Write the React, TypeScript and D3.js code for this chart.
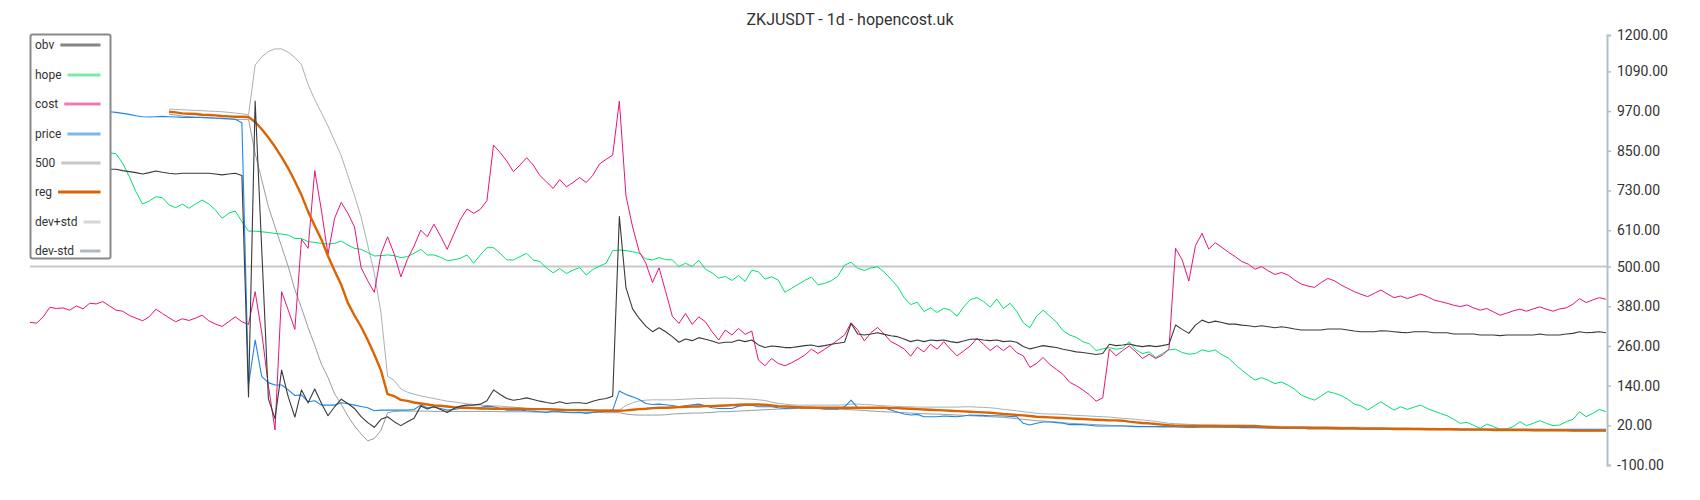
import React, { useEffect, useRef } from "react";
import * as d3 from "d3";

const TITLE = "ZKJUSDT - 1d - hopencost.uk";
const N = 239;
const BAND_START = 21;
const LEVEL = 500;
const yTicks = [-100, 20, 140, 260, 380, 500, 610, 730, 850, 970, 1090, 1200];

const obv = [
  800, 800, 798, 798, 797, 797, 796, 796, 795, 795, 794, 794,
  794, 794, 790, 787, 784, 780, 784, 789, 785, 782, 780, 782, 782, 782, 782, 782, 780, 777, 780, 782, 775,
  106, 1000, 550, 100, 40, 187, 106, 45, 127, 88, 130, 87, 49, 76, 99,
  86, 71, 46, 28, 14, 38, 46, 31, 19, 31, 41, 78, 69, 76, 68, 59, 71, 78, 81, 81, 84, 94, 127, 113, 101, 96, 99, 103, 98, 93, 89, 86, 91, 86, 88, 88, 86, 93, 98, 101, 108, 651, 436, 372, 343, 320, 303, 315,
  303, 288, 271, 281, 276, 285, 280, 275, 268, 271, 271, 278, 273, 278, 263, 255, 260, 258, 255, 255, 258, 261, 263, 258, 261, 265, 268, 271, 328, 296, 293, 296, 300, 295, 291, 288, 281, 273, 278, 273, 278, 276, 278, 273, 270, 275, 280,
  281, 278, 276, 278, 273, 275, 271, 258, 251, 256, 261, 258, 255, 250, 246, 242, 240, 237, 234, 237, 265, 261, 263, 266, 261, 258, 261, 258, 261, 265, 323, 310, 298, 323, 338, 330, 335, 331, 326, 326, 323, 321, 318, 321, 318, 315, 318, 315,
  311, 308, 308, 308, 308, 311, 311, 311, 308, 305, 303, 303, 303, 306, 305, 303, 301, 300, 303, 303, 303, 300, 300, 300, 296, 296, 296, 296, 293, 293, 293, 291, 293, 293, 293, 293, 293, 296, 293, 293, 293, 296, 298, 303, 300, 301, 303, 300,
];

const hope = [
  880, 878, 876, 874, 872, 870, 866, 862, 858, 854, 850, 847,
  844, 841, 812, 772, 726, 689, 698, 711, 708, 686, 678, 689, 676, 689, 701, 689, 671, 646, 661, 668, 636,
  607, 607, 605, 603, 600, 598, 595, 585, 585, 575, 573, 570, 568, 570, 577,
  565, 555, 552, 542, 532, 533, 535, 533, 527, 530, 540, 552, 535, 535, 528, 518, 520, 525, 535, 510, 535, 557, 557, 540, 520, 520, 530, 540, 520, 515, 496, 481, 494, 479, 489, 497, 474, 491, 501, 510, 548, 550, 548, 545, 540, 523, 520, 527,
  521, 520, 500, 510, 500, 519, 492, 481, 465, 470, 458, 473, 455, 489, 484, 462, 469, 459, 422, 434, 446, 458, 468, 445, 449, 457, 471, 504, 513, 495, 488, 496, 499, 483, 462, 440, 406, 385, 392, 364, 375, 361, 374, 368, 350, 378, 400,
  406, 394, 377, 402, 373, 389, 365, 330, 315, 350, 368, 350, 332, 306, 293, 286, 273, 266, 246, 251, 255, 250, 253, 273, 248, 237, 242, 225, 237, 248, 250, 240, 235, 237, 248, 243, 248, 233, 223, 204, 187, 171, 157, 164, 156, 146, 151, 141,
  129, 111, 103, 96, 109, 122, 117, 110, 99, 84, 79, 66, 79, 91, 78, 66, 76, 68, 75, 81, 71, 63, 56, 49, 38, 26, 29, 20, 11, 24, 16, 8, 9, 16, 31, 19, 26, 34, 26, 19, 21, 31, 38, 61, 46, 56, 68, 61,
];

const cost = [
  331, 329, 348, 377, 373, 375, 368, 381, 372, 389, 387, 394, 381, 368, 365, 352, 344, 336, 348, 371, 358, 345, 333, 342, 337, 344, 353, 336, 326, 319, 333, 348, 333, 325, 424, 300, 140, 6, 424, 368, 310, 583, 555, 790, 671, 537, 646, 694,
  661, 620, 497, 457, 422, 538, 590, 538, 469, 522, 562, 610, 590, 628, 592, 552, 598, 643, 674, 661, 673, 699, 867, 845, 819, 787, 807, 829, 807, 775, 756, 736, 763, 741, 754, 769, 754, 776, 810, 824, 837, 1000, 714, 620, 545, 510, 452, 496,
  424, 350, 328, 358, 325, 348, 333, 303, 278, 308, 293, 313, 295, 305, 217, 200, 222, 207, 200, 209, 220, 232, 250, 237, 250, 263, 278, 293, 330, 308, 275, 300, 316, 296, 273, 263, 251, 229, 256, 242, 265, 250, 273, 250, 230, 245, 260,
  283, 265, 246, 261, 246, 261, 240, 230, 195, 207, 225, 204, 189, 174, 150, 140, 127, 112, 93, 103, 251, 230, 246, 260, 242, 222, 235, 222, 232, 251, 555, 520, 456, 563, 600, 553, 572, 558, 543, 530, 515, 507, 492, 500, 487, 476, 482, 474,
  459, 447, 441, 437, 452, 464, 457, 444, 434, 424, 416, 409, 419, 429, 417, 406, 411, 403, 410, 417, 409, 399, 394, 389, 383, 379, 384, 375, 368, 373, 363, 353, 359, 366, 371, 365, 372, 378, 371, 365, 372, 375, 386, 403, 391, 399, 406, 401,
];

const price = [
  990, 988, 986, 984, 982, 980, 978, 976, 974, 972, 970, 969,
  968, 966, 963, 960, 956, 953, 952, 953, 954, 953, 952, 951, 951, 951, 951, 950, 949, 948, 947, 945, 935,
  142, 278, 167, 149, 142, 142, 127, 110, 112, 91, 94, 81, 81, 81, 88,
  85, 81, 77, 73, 64, 66, 66, 66, 66, 66, 68, 81, 73, 76, 71, 66, 68, 71, 71, 71, 74, 78, 76, 71, 66, 66, 66, 64, 63, 61, 59, 63, 61, 59, 58, 59, 56, 59, 61, 63, 66, 124, 113, 106, 98, 86, 83, 84,
  82, 80, 76, 79, 82, 84, 79, 73, 71, 71, 71, 78, 80, 81, 76, 76, 76, 73, 71, 72, 73, 73, 73, 71, 69, 69, 69, 76, 96, 73, 73, 73, 73, 73, 66, 60, 54, 51, 53, 46, 46, 46, 48, 47, 46, 48, 51,
  50, 50, 49, 49, 48, 47, 46, 26, 21, 26, 30, 30, 28, 26, 22, 22, 22, 20, 18, 18, 18, 18, 18, 17, 16, 16, 16, 16, 16, 16, 16, 15, 14, 14, 16, 16, 15, 15, 14, 14, 13, 13, 13, 12, 12, 12, 11, 11,
  11, 11, 10, 10, 10, 10, 10, 10, 10, 10, 9, 9, 9, 9, 9, 9, 9, 9, 9, 9, 8, 8, 8, 8, 8, 8, 8, 8, 8, 8, 8, 8, 8, 8, 8, 8, 8, 8, 8, 8, 8, 8, 8, 8, 8, 8, 8, 8,
];

// reg / bands start at index BAND_START
const reg = [
  968, 966, 963, 962, 961, 959, 958, 957, 955, 954, 953, 953, 952,
  937, 915, 890, 862, 831, 797, 758, 716, 666, 623, 582, 532, 487, 445, 390, 352, 318, 278, 234, 186, 114, 108, 97, 94, 89, 86, 83, 80, 79, 77, 75, 74,
  73, 72, 71, 71, 70, 70, 70, 70, 70, 69, 69, 69, 69, 68, 67, 66, 66, 66, 66, 65, 64, 64, 64, 64, 65, 67, 69, 70, 72, 73,
  73, 74, 75, 76, 77, 77, 78, 78, 79, 80, 81, 82, 83, 83, 83, 82, 80, 78, 77, 76, 75, 74, 74, 73, 73, 73, 73, 73, 73, 73, 73, 73, 73, 73, 72, 72, 71, 70, 69, 68, 67, 66, 65, 64, 63, 62, 61,
  60, 59, 58, 56, 54, 53, 51, 50, 48, 46, 45, 44, 43, 42, 41, 40, 39, 38, 37, 36, 35, 35, 34, 31, 29, 27, 26, 24, 22, 20, 19, 19, 18, 18, 18, 18, 18, 18, 18, 18, 18, 18, 18, 16, 14, 14, 13, 13,
  13, 13, 12, 12, 12, 12, 11, 11, 11, 11, 10, 10, 10, 10, 10, 9, 9, 9, 9, 9, 8, 8, 8, 8, 8, 7, 7, 7, 7, 7, 6, 6, 6, 6, 6, 6, 5, 5, 5, 5, 5, 5, 4, 4, 4, 4, 4, 4,
];

const devPlus = [
  976, 975, 974, 973, 972, 971, 970, 969, 968, 966, 964, 962, 958,
  1109, 1134, 1150, 1158, 1158, 1148, 1132, 1110, 1050, 1005, 965, 925, 880, 835, 775, 715, 650, 565, 480, 360, 168, 156, 130, 120, 114, 109, 105, 101, 97, 93,
  91, 88, 85, 83, 81, 80, 79, 78, 76, 75, 73, 72, 71, 70, 69, 69, 68, 68, 67, 67, 66, 66, 66, 66, 66, 66, 80, 88, 94, 96, 97, 97,
  97, 97, 98, 99, 100, 101, 101, 102, 102, 102, 102, 101, 100, 99, 97, 95, 90, 86, 84, 82, 81, 81, 81, 81, 81, 81, 81, 82, 84, 84, 83, 82, 80, 79, 78,
  77, 76, 76, 75, 75, 75, 75, 75, 75, 75, 76, 76,
  75, 74, 73, 71, 68, 66, 64, 61, 59, 56, 55, 54, 54, 53, 51, 50, 49, 48, 47, 46, 45, 43, 41, 40, 38, 36, 34, 32, 29, 26, 25, 24, 23, 22, 21, 21, 21, 20, 20, 20, 20, 19, 19, 18, 18, 17, 17, 16,
  16, 16, 16, 15, 15, 15, 15, 14, 14, 14, 14, 13, 13, 13, 12, 12, 12, 12, 11, 11, 11, 11, 10, 10, 10, 10, 10, 9, 9, 9, 9, 9, 8, 8, 8, 8, 8, 8, 7, 7, 7, 7, 7, 7, 6, 6, 6, 6,
];

const devMinus = [
  960, 958, 955, 953, 951, 950, 949, 948, 947, 946, 945, 945, 945,
  842, 762, 681, 620, 560, 500, 430, 375, 315, 262, 205, 165, 115, 84, 48, 18, -6, -27, -20, 5, 58, 62, 63, 63, 63, 63, 63, 62, 62, 62,
  62, 62, 62, 62, 62, 62, 62, 61, 61, 61, 61, 61, 60, 60, 60, 60, 60, 59, 59, 59, 59, 59, 59, 58, 58, 58, 54, 52, 51, 51, 51, 51,
  52, 54, 55, 56, 57, 57, 58, 59, 61, 61, 62, 63, 64, 65, 66, 67, 68, 69, 70, 70, 71, 71, 71, 71, 71, 70, 69, 68, 67, 66, 65, 63, 62, 61, 60, 59, 58, 57, 56, 55, 54, 54, 53, 52, 51, 50, 49,
  48, 47, 46, 45, 44, 42, 40, 38, 36, 34, 33, 31, 30, 28, 26, 25, 24, 23, 22, 21, 20, 19, 18, 18, 17, 17, 16, 16, 15, 15, 15, 14, 14, 14, 14, 14, 14, 14, 14, 14, 14, 14, 14, 13, 13, 12, 12, 11,
  11, 11, 10, 10, 10, 10, 10, 9, 9, 9, 9, 9, 8, 8, 8, 8, 8, 8, 7, 7, 7, 7, 7, 7, 6, 6, 6, 6, 6, 6, 5, 5, 5, 5, 5, 5, 4, 4, 4, 4, 4, 4, 3, 3, 3, 3, 3, 3,
];

const legendItems = [
  { label: "obv", color: "#858585" },
  { label: "hope", color: "#7eeaa9" },
  { label: "cost", color: "#f07cb6" },
  { label: "price", color: "#7fb6ec" },
  { label: "500", color: "#c8c8c8" },
  { label: "reg", color: "#d9620a" },
  { label: "dev+std", color: "#d3d7db" },
  { label: "dev-std", color: "#b1b9c0" },
];

export default function App() {
  const ref = useRef<SVGSVGElement>(null);

  useEffect(() => {
    const svg = d3.select(ref.current);
    svg.selectAll("*").remove();
    const left = 30;
    const axisX = 1607;
    const x = d3.scaleLinear().domain([0, N - 1]).range([left, 1606]);
    const y = d3.scaleLinear().domain([-100, 1200]).range([465, 35]);

    const mk = (offset: number) =>
      d3
        .line<number>()
        .x((_, i) => x(i + offset))
        .y((d) => y(d));

    const g = svg.append("g");

    g.append("line")
      .attr("x1", left)
      .attr("x2", axisX)
      .attr("y1", y(LEVEL))
      .attr("y2", y(LEVEL))
      .attr("stroke", "#c8c8c8")
      .attr("stroke-width", 2);

    const draw = (data: number[], offset: number, color: string, w: number) =>
      g
        .append("path")
        .attr("d", mk(offset)(data) as string)
        .attr("fill", "none")
        .attr("stroke", color)
        .attr("stroke-width", w)
        .attr("stroke-linejoin", "round");

    draw(devMinus, BAND_START, "#939ea7", 1);
    draw(devPlus, BAND_START, "#a7b0b8", 1);
    draw(hope, 0, "#00e070", 1);
    draw(cost, 0, "#e8127c", 1);
    draw(price, 0, "#1e88e5", 1.1);
    draw(reg, BAND_START, "#dc6300", 2.4);
    draw(obv, 0, "#3a3a3a", 1.1);

    const axis = d3
      .axisRight(y)
      .tickValues(yTicks)
      .tickSize(4)
      .tickSizeOuter(4)
      .tickPadding(6)
      .tickFormat((d) => (d as number).toFixed(2));
    const ag = svg.append("g").attr("transform", `translate(${axisX},0)`).call(axis as any);
    ag.select(".domain").attr("stroke", "#b4c0c6").attr("stroke-width", 2);
    ag.selectAll(".tick line").attr("stroke", "#b4c0c6").attr("stroke-width", 1.5);
    ag.selectAll(".tick text")
      .attr("fill", "#333")
      .style("font-size", "14px")
      .style("font-family", "Roboto, sans-serif");

    svg
      .append("text")
      .attr("x", 850)
      .attr("y", 25)
      .attr("text-anchor", "middle")
      .attr("fill", "#333")
      .style("font-size", "16px")
      .style("font-family", "Roboto, sans-serif")
      .text(TITLE);

    const lg = svg.append("g");
    lg.append("rect")
      .attr("x", 30.5)
      .attr("y", 34.5)
      .attr("width", 80)
      .attr("height", 224)
      .attr("rx", 2)
      .attr("fill", "#fff")
      .attr("stroke", "#8a8a8a")
      .attr("stroke-width", 2);
    const yc = [45, 75, 104, 134, 163, 192, 222, 251];
    legendItems.forEach((it, k) => {
      const t = lg
        .append("text")
        .attr("x", 35)
        .attr("y", yc[k] + 4)
        .attr("fill", "#333")
        .style("font-size", "12px")
        .style("font-family", "Roboto, sans-serif")
        .text(it.label);
      const w = (t.node() as SVGTextElement).getComputedTextLength();
      lg.append("line")
        .attr("x1", 35 + w + 6)
        .attr("x2", 100.5)
        .attr("y1", yc[k])
        .attr("y2", yc[k])
        .attr("stroke", it.color)
        .attr("stroke-width", 3);
    });
  }, []);

  return (
    <div style={{ position: "absolute", left: 0, top: 0, width: 1700, height: 500, background: "#fff" }}>
      <svg ref={ref} width={1700} height={500} style={{ display: "block" }} />
    </div>
  );
}
